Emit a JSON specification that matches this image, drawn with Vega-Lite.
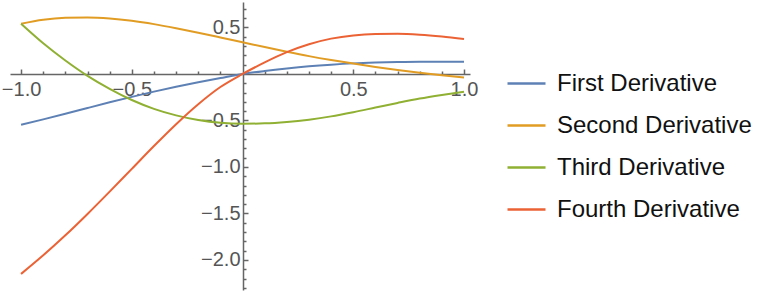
{
  "$schema": "https://vega.github.io/schema/vega-lite/v6.json",
  "width": 460,
  "height": 288,
  "autosize": "none",
  "padding": {"left": 10, "top": 2, "right": 296, "bottom": 4},
  "background": "white",
  "config": {"view": {"stroke": null}},
  "data": {"values": [
    {"x": -1.0, "y": -0.545, "s": "First Derivative"},
    {"x": -0.9, "y": -0.488, "s": "First Derivative"},
    {"x": -0.8, "y": -0.428, "s": "First Derivative"},
    {"x": -0.7, "y": -0.366, "s": "First Derivative"},
    {"x": -0.6, "y": -0.305, "s": "First Derivative"},
    {"x": -0.5, "y": -0.246, "s": "First Derivative"},
    {"x": -0.4, "y": -0.19, "s": "First Derivative"},
    {"x": -0.3, "y": -0.137, "s": "First Derivative"},
    {"x": -0.2, "y": -0.088, "s": "First Derivative"},
    {"x": -0.1, "y": -0.043, "s": "First Derivative"},
    {"x": 0.0, "y": 0.0, "s": "First Derivative"},
    {"x": 0.1, "y": 0.032, "s": "First Derivative"},
    {"x": 0.2, "y": 0.059, "s": "First Derivative"},
    {"x": 0.3, "y": 0.082, "s": "First Derivative"},
    {"x": 0.4, "y": 0.1, "s": "First Derivative"},
    {"x": 0.5, "y": 0.114, "s": "First Derivative"},
    {"x": 0.6, "y": 0.123, "s": "First Derivative"},
    {"x": 0.7, "y": 0.129, "s": "First Derivative"},
    {"x": 0.8, "y": 0.132, "s": "First Derivative"},
    {"x": 0.9, "y": 0.132, "s": "First Derivative"},
    {"x": 1.0, "y": 0.131, "s": "First Derivative"},
    {"x": -1.0, "y": 0.54, "s": "Second Derivative"},
    {"x": -0.9, "y": 0.583, "s": "Second Derivative"},
    {"x": -0.8, "y": 0.604, "s": "Second Derivative"},
    {"x": -0.7, "y": 0.608, "s": "Second Derivative"},
    {"x": -0.6, "y": 0.597, "s": "Second Derivative"},
    {"x": -0.5, "y": 0.572, "s": "Second Derivative"},
    {"x": -0.4, "y": 0.536, "s": "Second Derivative"},
    {"x": -0.3, "y": 0.492, "s": "Second Derivative"},
    {"x": -0.2, "y": 0.444, "s": "Second Derivative"},
    {"x": -0.1, "y": 0.393, "s": "Second Derivative"},
    {"x": 0.0, "y": 0.341, "s": "Second Derivative"},
    {"x": 0.1, "y": 0.289, "s": "Second Derivative"},
    {"x": 0.2, "y": 0.239, "s": "Second Derivative"},
    {"x": 0.3, "y": 0.192, "s": "Second Derivative"},
    {"x": 0.4, "y": 0.15, "s": "Second Derivative"},
    {"x": 0.5, "y": 0.112, "s": "Second Derivative"},
    {"x": 0.6, "y": 0.076, "s": "Second Derivative"},
    {"x": 0.7, "y": 0.043, "s": "Second Derivative"},
    {"x": 0.8, "y": 0.013, "s": "Second Derivative"},
    {"x": 0.9, "y": -0.014, "s": "Second Derivative"},
    {"x": 1.0, "y": -0.037, "s": "Second Derivative"},
    {"x": -1.0, "y": 0.54, "s": "Third Derivative"},
    {"x": -0.9, "y": 0.33, "s": "Third Derivative"},
    {"x": -0.8, "y": 0.145, "s": "Third Derivative"},
    {"x": -0.7, "y": -0.02, "s": "Third Derivative"},
    {"x": -0.6, "y": -0.16, "s": "Third Derivative"},
    {"x": -0.5, "y": -0.28, "s": "Third Derivative"},
    {"x": -0.4, "y": -0.375, "s": "Third Derivative"},
    {"x": -0.3, "y": -0.445, "s": "Third Derivative"},
    {"x": -0.2, "y": -0.495, "s": "Third Derivative"},
    {"x": -0.1, "y": -0.525, "s": "Third Derivative"},
    {"x": 0.0, "y": -0.535, "s": "Third Derivative"},
    {"x": 0.1, "y": -0.531, "s": "Third Derivative"},
    {"x": 0.2, "y": -0.516, "s": "Third Derivative"},
    {"x": 0.3, "y": -0.491, "s": "Third Derivative"},
    {"x": 0.4, "y": -0.456, "s": "Third Derivative"},
    {"x": 0.5, "y": -0.411, "s": "Third Derivative"},
    {"x": 0.6, "y": -0.361, "s": "Third Derivative"},
    {"x": 0.7, "y": -0.311, "s": "Third Derivative"},
    {"x": 0.8, "y": -0.264, "s": "Third Derivative"},
    {"x": 0.9, "y": -0.225, "s": "Third Derivative"},
    {"x": 1.0, "y": -0.19, "s": "Third Derivative"},
    {"x": -1.0, "y": -2.15, "s": "Fourth Derivative"},
    {"x": -0.9, "y": -1.95, "s": "Fourth Derivative"},
    {"x": -0.8, "y": -1.735, "s": "Fourth Derivative"},
    {"x": -0.7, "y": -1.505, "s": "Fourth Derivative"},
    {"x": -0.6, "y": -1.265, "s": "Fourth Derivative"},
    {"x": -0.5, "y": -1.02, "s": "Fourth Derivative"},
    {"x": -0.4, "y": -0.775, "s": "Fourth Derivative"},
    {"x": -0.3, "y": -0.54, "s": "Fourth Derivative"},
    {"x": -0.2, "y": -0.325, "s": "Fourth Derivative"},
    {"x": -0.1, "y": -0.14, "s": "Fourth Derivative"},
    {"x": 0.0, "y": 0.0, "s": "Fourth Derivative"},
    {"x": 0.1, "y": 0.125, "s": "Fourth Derivative"},
    {"x": 0.2, "y": 0.235, "s": "Fourth Derivative"},
    {"x": 0.3, "y": 0.32, "s": "Fourth Derivative"},
    {"x": 0.4, "y": 0.38, "s": "Fourth Derivative"},
    {"x": 0.5, "y": 0.415, "s": "Fourth Derivative"},
    {"x": 0.6, "y": 0.43, "s": "Fourth Derivative"},
    {"x": 0.7, "y": 0.432, "s": "Fourth Derivative"},
    {"x": 0.8, "y": 0.422, "s": "Fourth Derivative"},
    {"x": 0.9, "y": 0.402, "s": "Fourth Derivative"},
    {"x": 1.0, "y": 0.375, "s": "Fourth Derivative"}
  ]},
  "mark": {"type": "line", "strokeWidth": 2, "interpolate": "monotone"},
  "encoding": {
    "x": {
      "field": "x", "type": "quantitative",
      "scale": {"domain": [-1.05, 1.027], "nice": false, "zero": false},
      "axis": {
        "title": null, "offset": -216, "grid": false,
        "values": [-1, -0.9, -0.8, -0.7, -0.6, -0.5, -0.4, -0.3, -0.2, -0.1, 0.1, 0.2, 0.3, 0.4, 0.5, 0.6, 0.7, 0.8, 0.9, 1],
        "labelExpr": "abs(datum.value*2 - round(datum.value*2)) < 0.001 ? format(datum.value, '.1f') : ''",
        "tickSize": {"condition": {"test": "abs(datum.value*2 - round(datum.value*2)) < 0.001", "value": -5}, "value": -3},
        "tickColor": "#666", "tickWidth": 1.5,
        "domainColor": "#666", "domainWidth": 1.5,
        "labelFont": "Liberation Sans", "labelFontSize": 20, "labelColor": "#555",
        "labelPadding": 10, "labelFlush": false, "labelOverlap": false
      }
    },
    "y": {
      "field": "y", "type": "quantitative",
      "scale": {"domain": [-2.323, 0.774], "nice": false, "zero": false},
      "axis": {
        "title": null, "offset": -233, "grid": false,
        "values": [-2.3, -2.2, -2.1, -2.0, -1.9, -1.8, -1.7, -1.6, -1.5, -1.4, -1.3, -1.2, -1.1, -1.0, -0.9, -0.8, -0.7, -0.6, -0.5, -0.4, -0.3, -0.2, -0.1, 0.1, 0.2, 0.3, 0.4, 0.5, 0.6, 0.7],
        "labelExpr": "abs(datum.value*2 - round(datum.value*2)) < 0.001 ? format(datum.value, '.1f') : ''",
        "tickSize": {"condition": {"test": "abs(datum.value*2 - round(datum.value*2)) < 0.001", "value": -5}, "value": -3},
        "tickColor": "#666", "tickWidth": 1.5,
        "domainColor": "#666", "domainWidth": 1.5,
        "labelFont": "Liberation Sans", "labelFontSize": 20, "labelColor": "#555",
        "labelPadding": 8, "labelFlush": false, "labelOverlap": false
      }
    },
    "color": {
      "field": "s", "type": "nominal",
      "scale": {
        "domain": ["First Derivative", "Second Derivative", "Third Derivative", "Fourth Derivative"],
        "range": ["#5E81B5", "#E19C24", "#8FB032", "#EB6235"]
      },
      "legend": {
        "title": null, "orient": "none", "legendX": 496, "legendY": 61,
        "symbolType": "stroke", "symbolSize": 1444, "symbolStrokeWidth": 2.5,
        "labelFont": "Liberation Sans", "labelFontSize": 24, "labelColor": "#111",
        "labelOffset": 10, "rowPadding": 9, "labelLimit": 400
      }
    }
  }
}
